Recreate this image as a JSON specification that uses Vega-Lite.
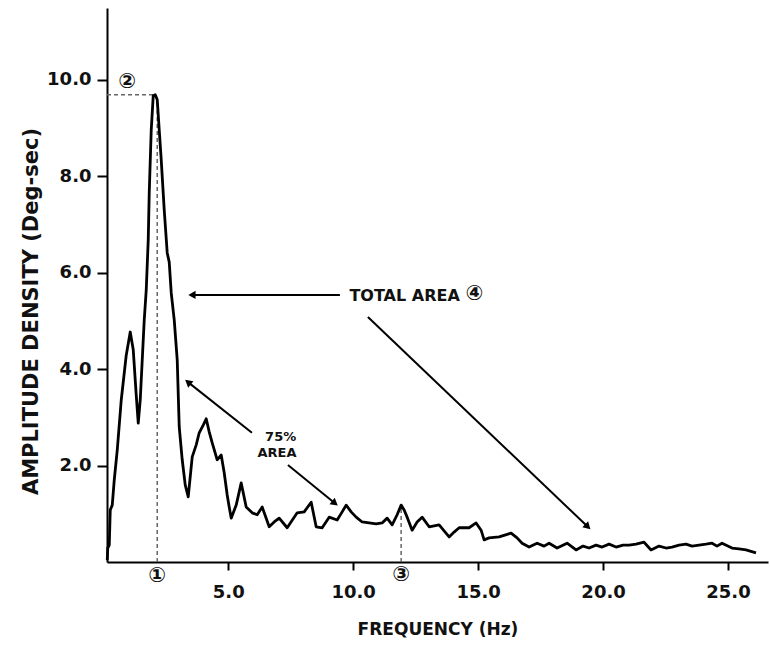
{
  "$schema": "https://vega.github.io/schema/vega-lite/v6.json",
  "autosize": {"type": "none"},
  "width": 661,
  "height": 554,
  "padding": {"left": 107, "top": 8, "right": 2, "bottom": 84},
  "background": "white",
  "config": {
    "view": {"stroke": null},
    "font": "DejaVu Sans",
    "axis": {
      "domainColor": "black", "domainWidth": 2, "tickColor": "black", "tickWidth": 2,
      "labelFont": "DejaVu Sans", "labelFontWeight": "bold", "labelColor": "#111",
      "titleFont": "DejaVu Sans", "titleFontWeight": "bold", "titleColor": "#111",
      "grid": false
    }
  },
  "datasets": {
    "curve": [
      {"f": 0.16, "a": 0.04}, {"f": 0.18, "a": 0.29}, {"f": 0.24, "a": 0.35}, {"f": 0.28, "a": 1.08},
      {"f": 0.36, "a": 1.18}, {"f": 0.44, "a": 1.70}, {"f": 0.56, "a": 2.32}, {"f": 0.72, "a": 3.36},
      {"f": 0.92, "a": 4.29}, {"f": 1.08, "a": 4.77}, {"f": 1.20, "a": 4.40}, {"f": 1.32, "a": 3.46},
      {"f": 1.40, "a": 2.88}, {"f": 1.48, "a": 3.36}, {"f": 1.56, "a": 4.19}, {"f": 1.64, "a": 5.02},
      {"f": 1.72, "a": 5.64}, {"f": 1.80, "a": 6.68}, {"f": 1.84, "a": 7.66}, {"f": 1.92, "a": 8.96},
      {"f": 2.00, "a": 9.67}, {"f": 2.08, "a": 9.69}, {"f": 2.16, "a": 9.59}, {"f": 2.24, "a": 8.96},
      {"f": 2.32, "a": 8.34}, {"f": 2.44, "a": 7.30}, {"f": 2.56, "a": 6.41}, {"f": 2.64, "a": 6.22},
      {"f": 2.72, "a": 5.58}, {"f": 2.84, "a": 5.02}, {"f": 2.96, "a": 4.19}, {"f": 3.04, "a": 2.80},
      {"f": 3.16, "a": 2.12}, {"f": 3.28, "a": 1.60}, {"f": 3.40, "a": 1.35}, {"f": 3.56, "a": 2.18},
      {"f": 3.72, "a": 2.43}, {"f": 3.84, "a": 2.68}, {"f": 4.00, "a": 2.84}, {"f": 4.12, "a": 2.97},
      {"f": 4.24, "a": 2.70}, {"f": 4.36, "a": 2.47}, {"f": 4.56, "a": 2.12}, {"f": 4.72, "a": 2.22},
      {"f": 4.84, "a": 1.85}, {"f": 4.96, "a": 1.39}, {"f": 5.04, "a": 1.14}, {"f": 5.12, "a": 0.91},
      {"f": 5.32, "a": 1.18}, {"f": 5.52, "a": 1.64}, {"f": 5.72, "a": 1.14}, {"f": 5.96, "a": 1.02},
      {"f": 6.16, "a": 0.98}, {"f": 6.36, "a": 1.14}, {"f": 6.64, "a": 0.73}, {"f": 6.84, "a": 0.83},
      {"f": 7.04, "a": 0.91}, {"f": 7.36, "a": 0.71}, {"f": 7.76, "a": 1.02}, {"f": 8.04, "a": 1.04},
      {"f": 8.32, "a": 1.24}, {"f": 8.52, "a": 0.73}, {"f": 8.76, "a": 0.71}, {"f": 9.04, "a": 0.93},
      {"f": 9.36, "a": 0.87}, {"f": 9.56, "a": 1.04}, {"f": 9.72, "a": 1.18}, {"f": 9.92, "a": 1.04},
      {"f": 10.12, "a": 0.93}, {"f": 10.36, "a": 0.83}, {"f": 10.64, "a": 0.81}, {"f": 10.92, "a": 0.79},
      {"f": 11.16, "a": 0.81}, {"f": 11.36, "a": 0.91}, {"f": 11.56, "a": 0.77}, {"f": 11.76, "a": 0.98},
      {"f": 11.92, "a": 1.18}, {"f": 12.04, "a": 1.08}, {"f": 12.16, "a": 0.93}, {"f": 12.36, "a": 0.66},
      {"f": 12.56, "a": 0.83}, {"f": 12.76, "a": 0.93}, {"f": 13.04, "a": 0.73}, {"f": 13.44, "a": 0.77},
      {"f": 13.84, "a": 0.52}, {"f": 14.04, "a": 0.62}, {"f": 14.24, "a": 0.71}, {"f": 14.64, "a": 0.71},
      {"f": 14.92, "a": 0.81}, {"f": 15.12, "a": 0.66}, {"f": 15.24, "a": 0.46}, {"f": 15.44, "a": 0.50},
      {"f": 15.84, "a": 0.52}, {"f": 16.32, "a": 0.60}, {"f": 16.56, "a": 0.50}, {"f": 16.76, "a": 0.39},
      {"f": 17.04, "a": 0.31}, {"f": 17.36, "a": 0.39}, {"f": 17.64, "a": 0.33}, {"f": 17.84, "a": 0.39},
      {"f": 18.16, "a": 0.29}, {"f": 18.56, "a": 0.39}, {"f": 18.92, "a": 0.25}, {"f": 19.20, "a": 0.33},
      {"f": 19.44, "a": 0.29}, {"f": 19.72, "a": 0.35}, {"f": 19.96, "a": 0.31}, {"f": 20.24, "a": 0.37},
      {"f": 20.52, "a": 0.31}, {"f": 20.80, "a": 0.35}, {"f": 21.04, "a": 0.35}, {"f": 21.32, "a": 0.37},
      {"f": 21.64, "a": 0.41}, {"f": 21.92, "a": 0.25}, {"f": 22.24, "a": 0.33}, {"f": 22.52, "a": 0.29},
      {"f": 22.76, "a": 0.31}, {"f": 23.04, "a": 0.35}, {"f": 23.32, "a": 0.37}, {"f": 23.56, "a": 0.33},
      {"f": 23.84, "a": 0.35}, {"f": 24.12, "a": 0.37}, {"f": 24.36, "a": 0.39}, {"f": 24.56, "a": 0.33},
      {"f": 24.76, "a": 0.39}, {"f": 25.16, "a": 0.29}, {"f": 25.44, "a": 0.27}, {"f": 25.72, "a": 0.25},
      {"f": 26.12, "a": 0.19}
    ],
    "guides": [
      {"x": 0.15, "y": 9.69, "x2": 2.06, "y2": 9.69},
      {"x": 2.16, "y": 0, "x2": 2.16, "y2": 9.55},
      {"x": 11.92, "y": 0, "x2": 11.92, "y2": 1.15}
    ],
    "arrows": [
      {"name": "a1", "x": 9.47, "y": 5.54, "x2": 3.55, "y2": 5.54},
      {"name": "a2", "x": 10.59, "y": 5.08, "x2": 19.39, "y2": 0.73},
      {"name": "a3", "x": 5.95, "y": 2.68, "x2": 3.39, "y2": 3.73},
      {"name": "a4", "x": 7.39, "y": 2.01, "x2": 9.27, "y2": 1.22}
    ],
    "labels": [
      {"label": "TOTAL AREA", "x": 9.85, "y": 5.52},
      {"label": "④", "x": 14.85, "y": 5.55},
      {"label": "75%", "x": 7.1, "y": 2.59},
      {"label": "AREA", "x": 6.95, "y": 2.26},
      {"label": "①", "x": 2.16, "y": -0.3},
      {"label": "②", "x": 0.96, "y": 9.96},
      {"label": "③", "x": 11.92, "y": -0.27}
    ]
  },
  "layer": [
    {
      "data": {"name": "guides"},
      "mark": {"type": "rule", "strokeDash": [4, 3], "strokeWidth": 1.5, "color": "#666"},
      "encoding": {
        "x": {"field": "x", "type": "quantitative", "scale": {"domain": [0.15, 26.6], "nice": false, "zero": false},
          "axis": {"values": [5, 10, 15, 20, 25], "format": ".1f", "labelFontSize": 18, "tickSize": 8, "labelPadding": 13,
            "title": "FREQUENCY (Hz)", "titleFontSize": 17, "titlePadding": 20}},
        "y": {"field": "y", "type": "quantitative", "scale": {"domain": [0, 11.49], "nice": false},
          "axis": {"values": [2, 4, 6, 8, 10], "format": ".1f", "labelFontSize": 18, "tickSize": 10, "labelPadding": 6,
            "title": "AMPLITUDE DENSITY (Deg-sec)", "titleFontSize": 21, "titlePadding": 5, "titleY": 303}},
        "x2": {"field": "x2"},
        "y2": {"field": "y2"}
      }
    },
    {
      "data": {"name": "curve"},
      "mark": {"type": "line", "color": "black", "strokeWidth": 2.8, "strokeJoin": "round"},
      "encoding": {
        "x": {"field": "f", "type": "quantitative"},
        "y": {"field": "a", "type": "quantitative"}
      }
    },
    {
      "data": {"name": "arrows"},
      "mark": {"type": "rule", "color": "black", "strokeWidth": 2},
      "encoding": {
        "x": {"field": "x", "type": "quantitative"},
        "y": {"field": "y", "type": "quantitative"},
        "x2": {"field": "x2"},
        "y2": {"field": "y2"}
      }
    },
    {
      "data": {"name": "arrows"},
      "transform": [{"filter": "datum.name == 'a1'"}],
      "mark": {"type": "point", "shape": "triangle-up", "filled": true, "color": "black", "size": 70, "angle": 270, "opacity": 1},
      "encoding": {"x": {"field": "x2", "type": "quantitative"}, "y": {"field": "y2", "type": "quantitative"}}
    },
    {
      "data": {"name": "arrows"},
      "transform": [{"filter": "datum.name == 'a2'"}],
      "mark": {"type": "point", "shape": "triangle-up", "filled": true, "color": "black", "size": 70, "angle": 134, "opacity": 1},
      "encoding": {"x": {"field": "x2", "type": "quantitative"}, "y": {"field": "y2", "type": "quantitative"}}
    },
    {
      "data": {"name": "arrows"},
      "transform": [{"filter": "datum.name == 'a3'"}],
      "mark": {"type": "point", "shape": "triangle-up", "filled": true, "color": "black", "size": 70, "angle": 309, "opacity": 1},
      "encoding": {"x": {"field": "x2", "type": "quantitative"}, "y": {"field": "y2", "type": "quantitative"}}
    },
    {
      "data": {"name": "arrows"},
      "transform": [{"filter": "datum.name == 'a4'"}],
      "mark": {"type": "point", "shape": "triangle-up", "filled": true, "color": "black", "size": 70, "angle": 129, "opacity": 1},
      "encoding": {"x": {"field": "x2", "type": "quantitative"}, "y": {"field": "y2", "type": "quantitative"}}
    },
    {
      "data": {"name": "labels"},
      "transform": [{"filter": "datum.label == 'TOTAL AREA'"}],
      "mark": {"type": "text", "align": "left", "baseline": "middle", "fontSize": 16, "fontWeight": "bold", "color": "#111"},
      "encoding": {"x": {"field": "x", "type": "quantitative"}, "y": {"field": "y", "type": "quantitative"}, "text": {"field": "label"}}
    },
    {
      "data": {"name": "labels"},
      "transform": [{"filter": "datum.label == '75%' || datum.label == 'AREA'"}],
      "mark": {"type": "text", "align": "center", "baseline": "middle", "fontSize": 13, "fontWeight": "bold", "color": "#111"},
      "encoding": {"x": {"field": "x", "type": "quantitative"}, "y": {"field": "y", "type": "quantitative"}, "text": {"field": "label"}}
    },
    {
      "data": {"name": "labels"},
      "transform": [{"filter": "datum.label == '①' || datum.label == '②' || datum.label == '③' || datum.label == '④'"}],
      "mark": {"type": "text", "align": "center", "baseline": "middle", "fontSize": 21, "fontWeight": "bold", "color": "#111", "font": "DejaVu Sans"},
      "encoding": {"x": {"field": "x", "type": "quantitative"}, "y": {"field": "y", "type": "quantitative"}, "text": {"field": "label"}}
    }
  ]
}
